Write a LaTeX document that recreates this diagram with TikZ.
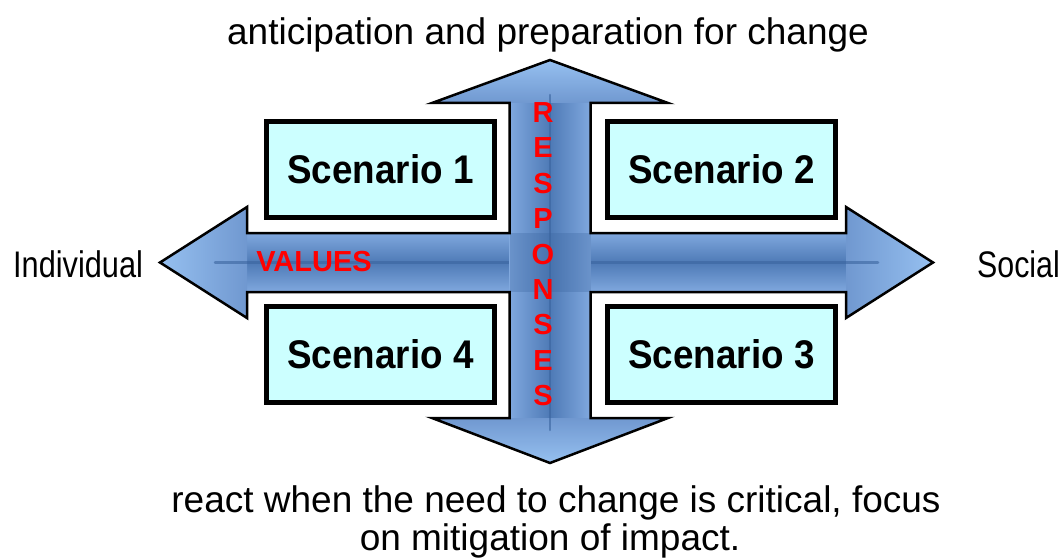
\documentclass[tikz,border=0pt]{standalone}
\usepackage{fontspec}
\setmainfont{Liberation Sans}
\definecolor{edgeblue}{RGB}{128,168,222}
\definecolor{midblue}{RGB}{112,152,208}
\definecolor{coreblue}{RGB}{78,122,182}
\definecolor{lineblue}{RGB}{58,100,158}
\definecolor{tipblue}{RGB}{150,192,240}
\definecolor{boxcyan}{RGB}{204,255,255}
\begin{document}
\begin{tikzpicture}[x=1pt,y=-1pt,
  scen/.style={draw=black,line width=5pt,fill=boxcyan,minimum width=228pt,minimum height=96pt,inner sep=0pt,font=\fontsize{40}{44}\selectfont\bfseries},
  resp/.style={text=red,font=\fontsize{29}{30}\selectfont\bfseries,inner sep=0pt},
  lbl/.style={font=\fontsize{37}{42}\selectfont,inner sep=0pt,anchor=base},
  sidelbl/.style={font=\fontsize{37}{42}\selectfont,inner sep=0pt,anchor=base west},
  outline/.style={draw=black,line width=2.5pt,line join=miter},
  centreline/.style={draw=lineblue,line width=2.5pt,opacity=0.6,line cap=round}]
\useasboundingbox (0,0) rectangle (1061,559);
\fill[white] (0,0) rectangle (1061,559);
% horizontal arrow pieces
\shade[top color=edgeblue,bottom color=edgeblue,middle color=coreblue] (247,233) rectangle (846,292);
\shade[left color=tipblue,right color=midblue] (247,207) -- (160,262.5) -- (247,318) -- cycle;
\shade[left color=midblue,right color=tipblue] (846,207) -- (933,262.5) -- (846,318) -- cycle;
\draw[centreline] (215,262.5) -- (878,262.5);
% vertical arrow pieces
\shade[left color=edgeblue,right color=edgeblue,middle color=coreblue] (509.5,103) rectangle (590.5,418);
\shade[top color=tipblue,bottom color=midblue] (550,60) -- (668,103) -- (432,103) -- cycle;
\shade[top color=midblue,bottom color=tipblue] (432,418) -- (668,418) -- (550,463) -- cycle;
\draw[centreline] (550,95) -- (550,430);
% overlap
\fill[lineblue,opacity=0.3] (509.5,233) rectangle (590.5,292);
% outline of the cross
\draw[outline] (550,60) -- (668,103) -- (590.5,103) -- (590.5,233) -- (846,233) -- (846,207)
  -- (933,262.5) -- (846,318) -- (846,292) -- (590.5,292) -- (590.5,418) -- (668,418)
  -- (550,463) -- (432,418) -- (509.5,418) -- (509.5,292) -- (247,292) -- (247,318)
  -- (160,262.5) -- (247,207) -- (247,233) -- (509.5,233) -- (509.5,103) -- (432,103) -- cycle;
% scenario boxes
\node[scen] (s1) at (380.5,169.5) {\scalebox{0.92}[1]{Scenario 1}};
\node[scen] (s2) at (721.5,169.5) {\scalebox{0.92}[1]{Scenario 2}};
\node[scen] (s4) at (380.5,354) {\scalebox{0.92}[1]{Scenario 4}};
\node[scen] (s3) at (721.5,354) {\scalebox{0.92}[1]{Scenario 3}};
% labels on arrows
\node[resp] (values) at (314,262) {VALUES};
\foreach \L [count=\i from 0] in {R,E,S,P,O,N,S,E,S}{
  \node[resp] (r\i) at (543,112.5+35.4*\i) {\L};
}
% outer labels
\node[lbl] (top) at (548,45) {anticipation and preparation for change};
\node[lbl] (bot1) at (556,512) {react when the need to change is critical, focus};
\node[lbl] (bot2) at (550,550) {on mitigation of impact.};
\node[sidelbl] (indiv) at (13,277) {\scalebox{0.83}[1]{Individual}};
\node[sidelbl] (social) at (977,277) {\scalebox{0.82}[1]{Social}};
\end{tikzpicture}
\end{document}
